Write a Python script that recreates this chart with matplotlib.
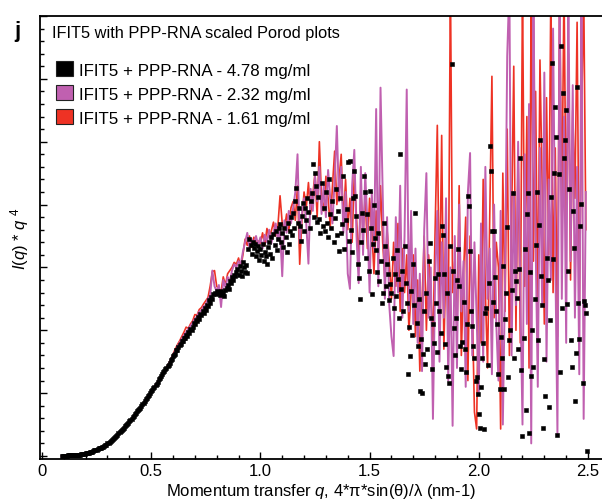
import numpy as np
import matplotlib
matplotlib.use("Agg")
import matplotlib.pyplot as plt
from matplotlib.patches import Patch
from matplotlib.ticker import MultipleLocator

plt.rcParams['font.family'] = ['Liberation Sans', 'DejaVu Sans']
plt.rcParams['mathtext.fontset'] = 'custom'
plt.rcParams['mathtext.rm'] = 'Liberation Sans'
plt.rcParams['mathtext.it'] = 'Liberation Sans:italic'

# I(q)*q^4 for 4.78 mg/ml, one value every 0.005 nm-1 from q = 0.09 to 2.495
iq4_black = [
    0.00, 0.00, 0.00, 0.00, 0.00, 0.00, 0.01, 0.01, 0.01, 0.01, 0.01, 0.01, 0.01, 0.02, 0.02, 0.02, 0.02, 0.02, 0.03, 0.03,
    0.03, 0.03, 0.04, 0.04, 0.05, 0.05, 0.06, 0.07, 0.07, 0.08, 0.09, 0.09, 0.10, 0.11, 0.12, 0.13, 0.13, 0.14, 0.15, 0.16,
    0.17, 0.18, 0.20, 0.21, 0.22, 0.24, 0.25, 0.27, 0.28, 0.30, 0.32, 0.34, 0.36, 0.38, 0.40, 0.41, 0.43, 0.45, 0.47, 0.49,
    0.51, 0.53, 0.55, 0.57, 0.59, 0.62, 0.64, 0.66, 0.68, 0.71, 0.73, 0.75, 0.77, 0.80, 0.82, 0.85, 0.87, 0.90, 0.92, 0.95,
    0.97, 1.00, 1.03, 1.05, 1.08, 1.10, 1.13, 1.15, 1.18, 1.22, 1.24, 1.27, 1.30, 1.33, 1.35, 1.38, 1.40, 1.43, 1.45, 1.48,
    1.52, 1.54, 1.59, 1.61, 1.63, 1.68, 1.69, 1.73, 1.76, 1.78, 1.83, 1.83, 1.88, 1.88, 1.93, 1.91, 1.97, 1.96, 2.02, 2.01,
    2.05, 2.11, 2.10, 2.16, 2.15, 2.21, 2.18, 2.26, 2.24, 2.31, 2.27, 2.35, 2.33, 2.41, 2.38, 2.48, 2.44, 2.53, 2.50, 2.58,
    2.60, 2.57, 2.62, 2.59, 2.61, 2.56, 2.63, 2.58, 2.60, 2.55, 2.64, 2.68, 2.72, 2.66, 2.78, 2.75, 2.84, 2.80, 2.88, 2.86,
    2.92, 2.97, 2.88, 3.02, 2.95, 2.86, 3.08, 3.00, 2.93, 3.04, 2.91, 3.30, 3.45, 3.36, 3.22, 3.40, 3.31, 3.37, 3.18, 3.26,
    3.34, 3.12, 3.29, 3.20, 3.38, 3.10, 3.25, 3.18, 3.05, 3.32, 3.40, 3.22, 3.48, 3.15, 3.53, 3.36, 3.58, 3.28, 3.46, 3.62,
    3.69, 3.40, 3.55, 3.33, 3.62, 3.48, 3.24, 3.71, 3.37, 3.58, 3.80, 3.52, 3.87, 3.62, 4.05, 4.27, 3.70, 3.95, 3.66, 3.42,
    3.82, 4.02, 3.58, 3.95, 3.75, 4.10, 3.88, 3.62, 4.06, 4.18, 4.64, 3.80, 4.51, 4.30, 3.72, 4.12, 3.77, 3.55, 4.35, 3.66,
    3.95, 3.58, 4.20, 3.70, 3.48, 4.40, 3.85, 3.62, 4.05, 3.40, 3.78, 4.24, 3.52, 3.90, 3.26, 4.10, 3.55, 3.69, 4.45, 3.30,
    3.75, 3.93, 4.67, 3.42, 4.69, 3.60, 3.25, 4.10, 4.53, 4.14, 3.82, 3.05, 2.83, 2.49, 3.40, 3.86, 3.60, 4.45, 4.20, 3.15,
    3.85, 2.95, 4.21, 3.62, 2.57, 3.38, 4.00, 3.47, 3.27, 2.92, 3.55, 2.78, 3.10, 2.44, 2.60, 3.71, 3.34, 2.70, 3.05, 2.89,
    2.48, 2.73, 2.60, 3.15, 2.35, 2.90, 2.55, 3.28, 2.81, 2.20, 4.80, 2.65, 2.94, 2.30, 3.34, 2.75, 2.44, 1.30, 2.05, 1.59,
    2.62, 1.92, 3.05, 2.40, 3.87, 2.12, 1.75, 2.50, 1.03, 1.86, 1.00, 1.62, 2.30, 1.47, 2.60, 1.70, 3.10, 3.39, 2.20, 1.38,
    2.10, 1.80, 2.83, 2.43, 1.65, 2.90, 2.30, 1.95, 3.66, 3.52, 2.90, 1.78, 1.42, 2.60, 1.27, 1.16, 3.34, 6.24, 2.95, 2.04,
    1.60, 2.20, 2.80, 3.29, 2.70, 1.75, 1.38, 1.82, 2.45, 1.70, 1.34, 2.10, 4.13, 3.97, 3.26, 2.30, 2.07, 1.75, 1.56, 1.20,
    1.25, 0.98, 0.66, 0.45, 1.09, 1.56, 1.80, 0.43, 2.28, 2.35, 1.45, 2.75, 4.93, 4.53, 3.58, 2.45, 3.58, 2.85, 2.30, 2.10,
    1.30, 1.06, 1.90, 1.56, 3.02, 1.06, 2.18, 2.60, 3.65, 1.25, 1.84, 2.00, 2.64, 4.19, 1.56, 2.94, 2.79, 2.51, 1.70, 2.98,
    4.74, 1.37, 0.32, 1.87, 3.30, 0.73, 3.85, 4.19, 0.37, 2.92, 1.27, 2.00, 1.42, 2.50, 3.36, 4.20, 1.84, 3.67, 5.03, 2.86,
    2.40, 0.45, 1.55, 0.96, 3.15, 2.80, 0.78, 2.16, 4.12, 6.25, 3.14, 4.50, 5.56, 5.08, 0.33, 4.48, 1.34, 6.53, 2.35, 5.77,
    4.74, 5.03, 5.50, 2.42, 2.94, 4.24, 1.85, 1.42, 3.90, 3.31, 0.87, 1.64, 5.87, 2.43, 1.86, 3.66, 4.01, 1.16, 2.47, 2.40,
    2.27, 0.08,
]

# I(q)*q^4 for 2.32 mg/ml, one value every 0.01 nm-1 from q = 0.09 to 2.49
iq4_purple = [
    0.00, 0.00, 0.00, 0.01, 0.01, 0.01, 0.01, 0.02, 0.02, 0.03,
    0.03, 0.04, 0.05, 0.06, 0.08, 0.09, 0.10, 0.12, 0.14, 0.15,
    0.17, 0.20, 0.22, 0.25, 0.28, 0.32, 0.36, 0.40, 0.43, 0.47,
    0.51, 0.55, 0.59, 0.64, 0.68, 0.73, 0.77, 0.82, 0.87, 0.92,
    0.97, 1.03, 1.08, 1.13, 1.18, 1.24, 1.30, 1.35, 1.40, 1.46,
    1.53, 1.60, 1.67, 1.74, 1.80, 1.86, 1.92, 1.97, 2.02, 2.07,
    2.12, 2.18, 2.22, 2.30, 2.31, 2.38, 2.40, 2.50, 2.55, 2.95,
    2.70, 2.62, 2.72, 2.37, 2.80, 2.68, 2.85, 2.78, 2.95, 3.05,
    3.00, 3.10, 3.05, 3.25, 3.40, 3.55, 3.30, 3.45, 3.38, 3.50,
    3.35, 3.48, 3.30, 3.52, 3.40, 3.60, 3.38, 3.55, 3.70, 3.45,
    3.60, 2.86, 3.75, 3.55, 3.90, 3.70, 3.95, 4.20, 4.80, 3.40,
    3.85, 4.10, 3.70, 3.06, 4.25, 3.90, 4.45, 4.05, 4.60, 3.85,
    4.30, 3.80, 4.55, 4.10, 3.70, 4.40, 5.25, 4.05, 4.60, 3.55,
    4.20, 2.90, 2.66, 4.30, 4.87, 3.50, 2.75, 4.60, 3.20, 4.50,
    3.70, 2.60, 4.20, 3.30, 5.52, 2.70, 5.86, 4.20, 2.50, 3.80,
    2.40, 1.90, 1.59, 3.80, 2.60, 4.30, 2.20, 3.50, 5.83, 2.30,
    3.90, 2.10, 3.30, 1.80, 2.90, 1.35, 3.60, 4.50, 2.20, 3.00,
    0.59, 2.80, 3.90, 1.50, 3.40, 2.20, 4.10, 1.20, 3.00, 0.48,
    3.50, 1.40, 4.00, 2.30, 3.10, 1.10, 4.20, 4.82, 1.60, 3.40,
    2.20, 1.00, 3.70, 1.50, 4.60, 2.50, 3.30, 1.30, 4.00, 2.10,
    1.20, 3.90, 0.50, 2.80, 6.36, 7.50, 1.60, 4.20, 2.40, 5.00,
    2.60, 0.50, 4.80, 2.10, 5.60, 0.20, 7.50, 3.40, 1.10, 4.90,
    2.40, 6.10, 1.50, 4.40, 2.80, 6.80, 3.20, 0.35, 7.50, 2.50,
    5.40, 1.80, 7.50, 3.10, 5.90, 2.20, 4.60, 1.30, 7.50, 0.59,
    4.20,
]

# I(q)*q^4 for 1.61 mg/ml, same q values as the 2.32 mg/ml curve
iq4_red = [
    0.00, 0.00, 0.00, 0.01, 0.01, 0.01, 0.01, 0.02, 0.02, 0.03,
    0.03, 0.04, 0.05, 0.06, 0.08, 0.09, 0.10, 0.12, 0.14, 0.15,
    0.17, 0.20, 0.22, 0.25, 0.28, 0.32, 0.36, 0.40, 0.43, 0.47,
    0.51, 0.55, 0.59, 0.64, 0.68, 0.73, 0.77, 0.82, 0.87, 0.92,
    0.97, 1.03, 1.08, 1.13, 1.18, 1.24, 1.30, 1.35, 1.41, 1.47,
    1.54, 1.62, 1.70, 1.77, 1.83, 1.90, 1.97, 2.05, 2.03, 2.10,
    2.15, 2.25, 2.24, 2.33, 2.36, 2.42, 2.47, 2.52, 2.70, 2.93,
    2.95, 2.70, 2.66, 2.62, 2.85, 2.72, 2.90, 2.95, 3.00, 3.08,
    3.05, 3.15, 3.00, 3.20, 3.45, 3.35, 3.50, 3.32, 3.48, 3.40,
    3.42, 3.38, 3.55, 3.35, 3.62, 3.48, 3.58, 3.72, 3.50, 3.65,
    4.14, 3.70, 3.62, 3.85, 3.58, 3.95, 4.05, 3.75, 4.30, 3.05,
    3.75, 4.20, 3.95, 4.35, 3.85, 4.15, 4.50, 3.80, 5.00, 4.10,
    3.90, 4.45, 4.10, 3.65, 4.30, 4.85, 4.00, 4.40, 4.80, 3.70,
    4.40, 3.60, 4.10, 3.40, 4.50, 3.80, 3.10, 4.20, 3.60, 4.10,
    3.30, 4.10, 3.60, 2.90, 3.90, 3.20, 4.30, 3.40, 2.80, 3.60,
    3.10, 2.50, 3.40, 2.70, 3.70, 2.30, 3.30, 2.60, 3.20, 2.00,
    2.60, 3.20, 1.90, 2.80, 1.35, 2.40, 3.50, 2.00, 3.20, 2.60,
    1.80, 3.60, 5.26, 2.40, 5.10, 1.70, 3.20, 2.00, 7.60, 2.60,
    3.10, 2.00, 4.30, 1.60, 2.90, 3.80, 1.20, 3.50, 2.40, 0.70,
    0.43, 3.20, 1.80, 4.40, 2.60, 1.40, 3.80, 6.04, 2.20, 3.40,
    3.00, 0.43, 4.50, 2.30, 5.20, 1.60, 3.70, 6.20, 2.00, 4.80,
    1.80, 7.50, 2.70, 5.40, 1.40, 7.50, 3.10, 5.80, 2.20, 6.30,
    4.30, 2.10, 5.70, 3.20, 7.50, 2.60, 4.90, 1.90, 7.50, 3.80,
    7.50, 3.60, 6.40, 2.80, 5.50, 4.10, 6.90, 2.40, 5.20, 7.50,
    3.60,
]

labels = ["IFIT5 + PPP-RNA - 4.78 mg/ml",
          "IFIT5 + PPP-RNA - 2.32 mg/ml",
          "IFIT5 + PPP-RNA - 1.61 mg/ml"]
colors = ["#000000", "#C060B0", "#EE3224"]

q_black = np.linspace(0.09, 2.495, len(iq4_black))
q_lines = np.linspace(0.09, 2.49, len(iq4_purple))

fig = plt.figure(figsize=(6.02, 5.02), dpi=100)
ax = fig.add_axes([40/602, 42/502, 562/602, 443/502])

ax.plot(q_lines, iq4_red, color=colors[2], lw=1.2, zorder=1)
ax.plot(q_lines, iq4_purple, color=colors[1], lw=1.4, zorder=2)
ax.plot(q_black, iq4_black, ls='none', marker='s', ms=3.3, mew=0.4, color=colors[0], zorder=3)

ax.set_xlim(-0.009, 2.564)
ax.set_ylim(-0.048, 7.0)

ax.set_xticks([0, 0.5, 1.0, 1.5, 2.0, 2.5])
ax.set_xticklabels(["0", "0.5", "1.0", "1.5", "2.0", "2.5"])
ax.xaxis.set_minor_locator(MultipleLocator(0.1))
ax.yaxis.set_major_locator(MultipleLocator(1))
ax.yaxis.set_minor_locator(MultipleLocator(0.2))
ax.tick_params(which='both', direction='in', labelsize=12, width=1)
ax.tick_params(which='major', length=5)
ax.tick_params(which='minor', length=3)
ax.tick_params(axis='y', labelleft=False)
ax.tick_params(axis='x', pad=3)
for s in ['left', 'bottom', 'top']:
    ax.spines[s].set_linewidth(1.3)
ax.spines['right'].set_visible(False)

ax.set_xlabel(r'Momentum transfer $q$, 4*π*sin(θ)/λ (nm-1)', fontsize=12, labelpad=2)
ax.set_ylabel(r'$I(q)$ * $q$ $^{4}$', fontsize=12)
ax.yaxis.set_label_coords(-0.016, 0.5)

ax.text(0.0214, 0.9526, "IFIT5 with PPP-RNA scaled Porod plots", transform=ax.transAxes,
        fontsize=11.8, va='baseline', ha='left')

handles = [Patch(facecolor=c, edgecolor='#222222', linewidth=0.8, label=l)
           for c, l in zip(colors, labels)]
ax.legend(handles=handles, loc='upper left', bbox_to_anchor=(0.028, 0.898),
          frameon=False, fontsize=12.2, handlelength=1.0, handleheight=1.0,
          handletextpad=0.35, labelspacing=0.45, borderaxespad=0, borderpad=0)

fig.text(14/602, 1 - 37/502, "j", fontsize=16, fontweight='bold', va='baseline')

fig.savefig("out.png", dpi=100)
